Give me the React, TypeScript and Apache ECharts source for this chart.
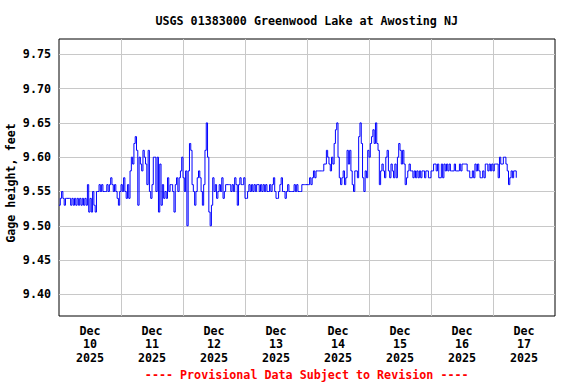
import React, { useEffect, useRef } from 'react';
import * as echarts from 'echarts';

const TITLE = 'USGS 01383000 Greenwood Lake at Awosting NJ';
const FOOTER = '---- Provisional Data Subject to Revision ----';
const Y_NAME = 'Gage height, feet';
const DAY_LABELS = [
  'Dec\n10\n2025', 'Dec\n11\n2025', 'Dec\n12\n2025', 'Dec\n13\n2025',
  'Dec\n14\n2025', 'Dec\n15\n2025', 'Dec\n16\n2025', 'Dec\n17\n2025',
];
// hours since Dec 10 00:00 between readings
const STEP_HOURS = 0.5;
const X_MIN_HOURS = 0;
const X_MAX_HOURS = 192;
const Y_MIN = 9.3685;
const Y_MAX = 9.7723;

// gage height (ft), every 30 minutes from Dec 10 00:00
const segA = [
  9.53, 9.54, 9.55, 9.54, 9.53, 9.54, 9.54, 9.54, 9.54, 9.53,
  9.54, 9.53, 9.54, 9.53, 9.54, 9.53, 9.54, 9.53, 9.54, 9.53,
  9.54, 9.53, 9.56, 9.52, 9.54, 9.52, 9.55, 9.53, 9.52, 9.55,
  9.55, 9.56, 9.55, 9.56, 9.55, 9.55, 9.55, 9.56, 9.55, 9.56,
  9.57, 9.56, 9.55, 9.56, 9.55, 9.54, 9.53, 9.55, 9.56, 9.55,
  9.57, 9.55, 9.54, 9.56, 9.54, 9.58, 9.60, 9.59, 9.62, 9.63,
  9.61, 9.53, 9.60, 9.59, 9.58, 9.61, 9.60, 9.59, 9.56, 9.61,
  9.55, 9.54,
];
const segB = [
  9.56, 9.60, 9.60, 9.55, 9.60, 9.52, 9.59, 9.53, 9.56, 9.54,
  9.55, 9.54, 9.57, 9.55, 9.56, 9.56, 9.55, 9.52, 9.56, 9.57,
  9.55, 9.57, 9.58, 9.60, 9.57, 9.55, 9.58, 9.50, 9.58, 9.62,
  9.61, 9.56, 9.55, 9.53, 9.55, 9.57, 9.58, 9.57, 9.55, 9.53,
  9.56, 9.61, 9.65, 9.60, 9.52, 9.50, 9.53, 9.57, 9.55, 9.56,
  9.54, 9.55, 9.56, 9.55, 9.57, 9.54, 9.55, 9.56, 9.56, 9.56,
  9.56, 9.55, 9.56, 9.55, 9.57, 9.56, 9.53, 9.56, 9.57, 9.56,
];
const segC = [
  9.56, 9.57, 9.54, 9.54, 9.55, 9.56, 9.55, 9.56, 9.55, 9.56,
  9.55, 9.56, 9.56, 9.55, 9.56, 9.55, 9.56, 9.55, 9.56, 9.55,
  9.55, 9.56, 9.55, 9.56, 9.57, 9.55, 9.54, 9.54, 9.55, 9.56,
  9.57, 9.55, 9.55, 9.54, 9.55, 9.56, 9.55, 9.55, 9.55, 9.55,
  9.56, 9.55, 9.56, 9.55, 9.55, 9.55, 9.56, 9.56, 9.56, 9.56,
  9.56, 9.56, 9.57, 9.56, 9.57, 9.58, 9.57, 9.58, 9.58, 9.58,
  9.58, 9.58, 9.58, 9.59, 9.59, 9.61, 9.60, 9.59, 9.58, 9.60,
  9.59, 9.62,
];
const segD = [
  9.64, 9.65, 9.60, 9.57, 9.56, 9.57, 9.58, 9.56, 9.57, 9.61,
  9.59, 9.61, 9.58, 9.56, 9.55, 9.58, 9.58, 9.57, 9.63, 9.65,
  9.62, 9.57, 9.55, 9.58, 9.57, 9.61, 9.60, 9.62, 9.63, 9.64,
  9.62, 9.65, 9.62, 9.61, 9.56, 9.58, 9.59, 9.58, 9.57, 9.60,
  9.61, 9.58, 9.57, 9.59, 9.58, 9.57, 9.59, 9.57, 9.60, 9.62,
  9.61, 9.59, 9.61, 9.59, 9.56, 9.57, 9.58, 9.59, 9.58, 9.58,
  9.57, 9.58, 9.57, 9.58, 9.57, 9.58, 9.57, 9.58, 9.58, 9.57,
  9.58,
];
const segE = [
  9.58, 9.57, 9.57, 9.58, 9.58, 9.59, 9.59, 9.58, 9.59, 9.57,
  9.57, 9.59, 9.57, 9.59, 9.58, 9.59, 9.58, 9.59, 9.58, 9.58,
  9.58, 9.59, 9.58, 9.58, 9.58, 9.59, 9.58, 9.59, 9.59, 9.59,
  9.59, 9.58, 9.58, 9.57, 9.57, 9.58, 9.57, 9.59, 9.58, 9.59,
  9.58, 9.57, 9.57, 9.58, 9.57, 9.59, 9.59, 9.58, 9.59, 9.58,
  9.59, 9.58, 9.59, 9.59, 9.59, 9.57, 9.60, 9.59, 9.59, 9.60,
  9.60, 9.59, 9.58, 9.56, 9.57, 9.58, 9.57, 9.58, 9.58, 9.57,
];

const FONT_FAMILY = '"DejaVu Sans Mono", "Liberation Mono", monospace';
const FONT_SIZE = 11.7;
const GRID_COLOR = '#c8c8c8';

export default function App() {
  const ref = useRef<HTMLDivElement>(null);

  useEffect(() => {
    if (!ref.current) return;
    const chart = echarts.init(ref.current, null, { renderer: 'svg' });
    const values = [...segA, ...segB, ...segC, ...segD, ...segE];
    const data = values.map((v, i) => [i * STEP_HOURS, v]);
    const font = `bold ${FONT_SIZE}px ${FONT_FAMILY}`;
    const labelStyle = {
      fontFamily: FONT_FAMILY,
      fontWeight: 'bold' as const,
      fontSize: FONT_SIZE,
      color: '#000',
    };

    chart.setOption({
      animation: false,
      backgroundColor: '#ffffff',
      grid: {
        left: 59,
        top: 39,
        width: 496,
        height: 277,
        show: true,
        borderColor: '#000',
        borderWidth: 1,
        backgroundColor: '#fff',
        containLabel: false,
      },
      xAxis: [
        {
          type: 'value',
          min: X_MIN_HOURS,
          max: X_MAX_HOURS,
          interval: 24,
          axisLabel: { show: false },
          axisTick: { show: false },
          axisLine: { show: false },
          splitLine: {
            show: true,
            showMinLine: false,
            showMaxLine: false,
            lineStyle: { color: GRID_COLOR, width: 1 },
          },
        },
        {
          type: 'category',
          data: DAY_LABELS,
          boundaryGap: true,
          position: 'bottom',
          axisLine: { show: false },
          axisTick: { show: false },
          splitLine: { show: false },
          axisLabel: { ...labelStyle, interval: 0, margin: 8, lineHeight: 13.5 },
        },
      ],
      yAxis: {
        type: 'value',
        min: Y_MIN,
        max: Y_MAX,
        splitNumber: 8,
        axisLine: { show: false },
        axisTick: { show: false },
        axisLabel: {
          ...labelStyle,
          margin: 8,
          showMinLabel: false,
          showMaxLabel: false,
          formatter: (v: number) => v.toFixed(2),
        },
        splitLine: {
          show: true,
          showMinLine: false,
          showMaxLine: false,
          lineStyle: { color: GRID_COLOR, width: 1 },
        },
      },
      series: [
        {
          type: 'line',
          xAxisIndex: 0,
          data,
          step: 'end',
          symbol: 'none',
          showSymbol: false,
          lineStyle: { color: '#0000ff', width: 1 },
        },
      ],
      graphic: [
        {
          type: 'text',
          x: 306.7,
          y: 21,
          style: { text: TITLE, font, fill: '#000', align: 'center', verticalAlign: 'middle' },
        },
        {
          type: 'text',
          x: 306.7,
          y: 375,
          style: { text: FOOTER, font, fill: '#ff0000', align: 'center', verticalAlign: 'middle' },
        },
        {
          type: 'text',
          x: 11,
          y: 183,
          rotation: Math.PI / 2,
          style: { text: Y_NAME, font, fill: '#000', align: 'center', verticalAlign: 'middle' },
        },
      ],
    });
    return () => chart.dispose();
  }, []);

  return (
    <div
      ref={ref}
      style={{ position: 'fixed', left: 0, top: 0, width: 576, height: 384, background: '#fff' }}
    />
  );
}
